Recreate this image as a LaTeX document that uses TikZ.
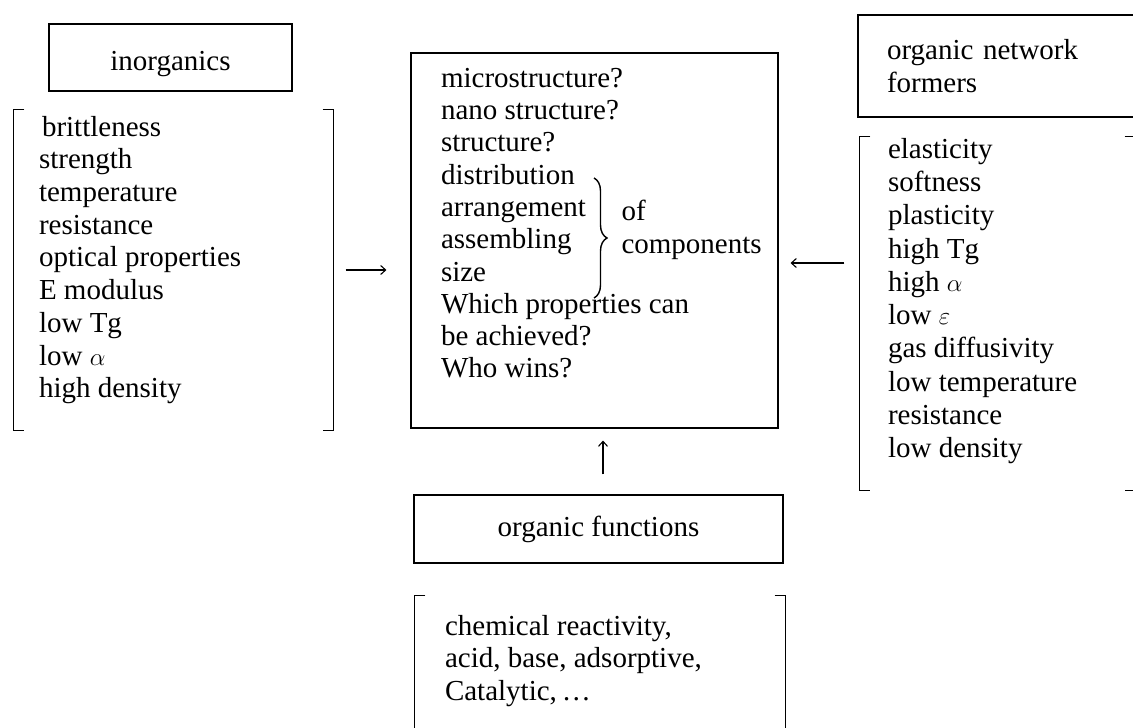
\documentclass[tikz,border=0pt]{standalone}
\usepackage{fontspec}
\setmainfont{Liberation Serif}
\usetikzlibrary{arrows.meta,decorations.pathreplacing,positioning}

\begin{document}
\begin{tikzpicture}[x=1pt,y=-1pt,>={Straight Barb[length=5pt,width=9pt]},line width=1.1pt,
  font=\fontsize{29}{32.7}\selectfont,
  box/.style={draw,inner sep=0pt},
  frame/.style={inner sep=0pt},
  items/.style={align=left,inner sep=0pt,anchor=north west}]
  \useasboundingbox (0,0) rectangle (1133,728);
  \clip (0,0) rectangle (1133,728);
  % heading boxes
  \node[box,minimum width=243pt,minimum height=67pt,text height=27pt,text depth=1pt] (inorg) at (170.5,57.5) {inorganics};
  \node[box,minimum height=102pt,text width=244pt,inner xsep=29pt,align=left] (netw) at (1009,66) {organic network\\formers};
  \node[box,minimum width=369pt,minimum height=68pt] (func) at (598.5,529) {organic functions};
  \node[box,minimum width=367pt,minimum height=375pt] (core) at (594.5,240.5) {};
  % bracket frames
  \node[frame,minimum width=319pt,minimum height=320pt] (inframe) at (173.5,270) {};
  \node[frame,minimum width=275pt,minimum height=353pt] (netframe) at (997.5,313.5) {};
  \node[frame,minimum width=370pt,minimum height=149pt] (fnframe) at (600,670.5) {};
  \foreach \f in {inframe,netframe,fnframe} {
    \draw (\f.north west) ++(11,0) -| (\f.south west) -- ++(11,0);
    \draw (\f.north east) ++(-11,0) -| (\f.south east) -- ++(-11,0);
  }
  % lists
  \node[items] (inlist) at ([shift={(25,6)}]inframe.north west)
    {\hspace{3pt}brittleness\\strength\\temperature\\resistance\\optical properties\\E modulus\\low Tg\\low $\alpha$\\high density};
  \node[items,font=\fontsize{29}{33.3}\selectfont] (netlist) at ([shift={(28,1)}]netframe.north west)
    {elasticity\\softness\\plasticity\\high Tg\\high $\alpha$\\low $\varepsilon$\\gas diffusivity\\low temperature\\resistance\\low density};
  \node[items,font=\fontsize{29}{32.5}\selectfont] (fnlist) at ([shift={(30,19)}]fnframe.north west)
    {chemical reactivity,\\acid, base, adsorptive,\\Catalytic,\,\dots};
  % questions
  \node[items,font=\fontsize{29}{32.3}\selectfont] (quest) at ([shift={(30,15)}]core.north west)
    {microstructure?\\nano structure?\\structure?\\distribution\\arrangement\\assembling\\size\\Which properties can\\be achieved?\\Who wins?};
  \coordinate (bt) at (594,178);
  \coordinate (bb) at (594,298);
  \draw[decorate,decoration={brace,amplitude=13pt},line width=1.4pt] (bt) -- (bb);
  \node[items] (ofcomp) at ([shift={(27,22)}]bt) {of\\components};
  % arrows
  \draw[->,shorten <=12pt,shorten >=24pt] (inframe.east) -- (inframe.east -| core.west);
  \coordinate (rin) at (core.east |- 0,263);
  \draw[->,shorten <=15pt,shorten >=12pt] (netframe.west |- rin) -- (rin);
  \draw[->,shorten <=20pt,shorten >=12pt] ([xshift=4.5pt]func.north) -- ([xshift=4.5pt]func.north |- core.south);
\end{tikzpicture}
\end{document}
